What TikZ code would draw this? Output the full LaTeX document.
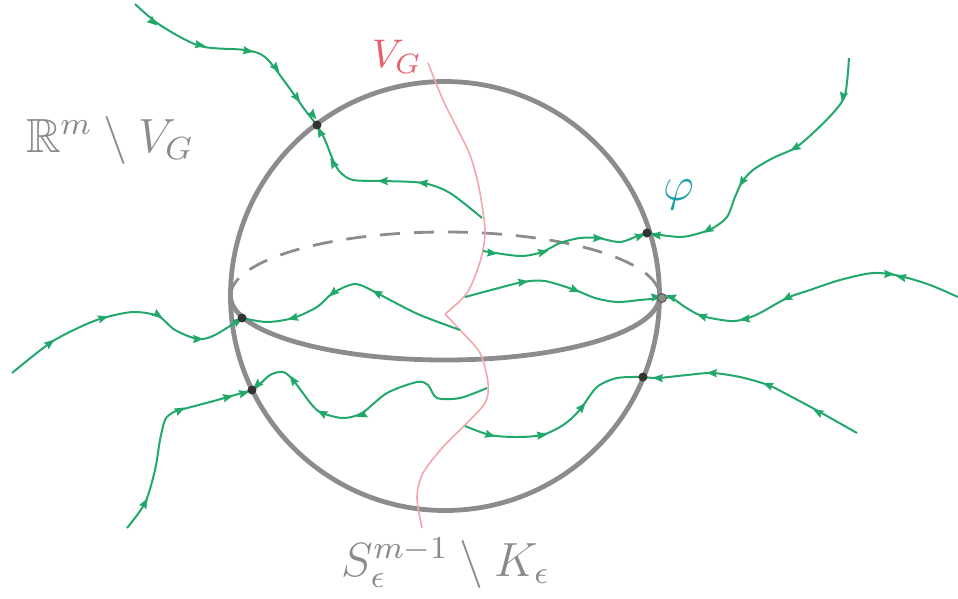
\documentclass[tikz,border=0pt]{standalone}
\usepackage{amsmath,amssymb}
\usepackage{graphicx}
\usepackage{tikz}
\usetikzlibrary{arrows.meta}
\definecolor{flowG}{HTML}{23A86C}
\definecolor{sphG}{HTML}{8C8C8C}
\definecolor{vgR}{HTML}{F4A6AE}
\definecolor{vgT}{HTML}{E65F6E}
\definecolor{phiC}{HTML}{1AA0AA}
\definecolor{txtG}{HTML}{8A8A8A}

\begin{document}
\begin{tikzpicture}[x=1pt,y=-1pt,
  flow/.style={flowG,line width=2pt},
  flowtip/.pic={\fill[flowG] (5.5,0) -- (-5,4.2) -- (-3.5,0) -- (-5,-4.2) -- cycle;},
  sphere/.style={sphG,line width=4.8pt},
  back/.style={sphG,line width=2.8pt,dash pattern=on 20pt off 14pt},
  vg/.style={vgR,line width=1.6pt},
  dot/.style={circle,fill=black!80,inner sep=0pt,minimum size=9pt},
  lbl/.style={txtG}
]
\useasboundingbox (0,0) rectangle (958,598);

% sphere and equator
\coordinate (c) at (445,296);
\draw[sphere] (c) circle[radius=214.5];
\draw[back] (c) ++(-214.5,0) arc[start angle=180,end angle=360,x radius=214.5,y radius=64];
\draw[sphere] (c) ++(214.5,0) arc[start angle=0,end angle=180,x radius=214.5,y radius=64];

% the set V_G
\coordinate (vgTop) at (428,63);
\coordinate (vgK)   at (445,314);
\coordinate (vgBot) at (422,528);
\draw[vg] plot[smooth] coordinates {(vgTop) (443,100) (458,130) (470,155) (478,183)
    (483,212) (485,235) (480,262) (467,293) (vgK)}
  plot[smooth] coordinates {(vgK) (460,330) (480,353) (488,383) (485,403) (463,427)
    (443,447) (423,473) (417,497) (vgBot)};

% points on the sphere
\coordinate (cN)  at (317,125);
\coordinate (cE1) at (647,233);
\coordinate (cE2) at (662,298);
\coordinate (cW1) at (242,318);
\coordinate (cW2) at (252,390);
\coordinate (cE3) at (643,377);

% free ends
\coordinate (a0) at (135,4);
\coordinate (b0) at (482,218);
\coordinate (c0) at (849,58);
\coordinate (d0) at (483,251);
\coordinate (e0) at (12,373);
\coordinate (f0) at (460,330);
\coordinate (g0) at (127,528);
\coordinate (h0) at (487,388);
\coordinate (i0) at (958,297);
\coordinate (j0) at (465,297);
\coordinate (k0) at (857,433);
\coordinate (l0) at (465,426);

% flow lines
\draw[flow] plot[smooth] coordinates {(a0) (160,25) (200,46) (245,50) (265,57) (285,82)
  (305,110) (cN)};
\draw[flow] plot[smooth] coordinates {(b0) (450,193) (423,183) (383,181) (353,180) (340,172)
  (333,160) (325,140) (cN)};
\draw[flow] plot[smooth] coordinates {(c0) (845,95) (833,113) (813,133) (795,148) (773,158)
  (753,170) (742,182) (735,197) (727,217) (713,228) (700,233) (680,237) (cE1)};
\draw[flow] plot[smooth] coordinates {(d0) (520,256) (542,252) (560,243) (580,238) (598,238)
  (620,242) (640,235) (cE1)};
\draw[flow] plot[smooth] coordinates {(e0) (50,343) (80,327) (103,318) (133,312) (158,316)
  (175,330) (198,339) (215,335) (cW1)};
\draw[flow] plot[smooth] coordinates {(f0) (420,315) (390,300) (375,292) (355,284) (333,293)
  (317,307) (293,318) (267,322) (cW1)};
\draw[flow] plot[smooth] coordinates {(g0) (145,503) (155,470) (160,440) (165,420) (172,413)
  (180,410) (210,402) (228,397) (cW2)};
\draw[flow] plot[smooth] coordinates {(h0) (460,398) (437,398) (428,385) (417,382) (387,393)
  (362,413) (343,418) (322,413) (312,405) (293,380) (283,372) (270,375) (257,387) (cW2)};
\draw[flow] plot[smooth] coordinates {(i0) (930,285) (900,276) (873,273) (840,280) (810,290)
  (787,298) (760,313) (745,319) (730,321) (702,316) (685,307) (672,298) (cE2)};
\draw[flow] plot[smooth] coordinates {(j0) (495,289) (523,282) (545,281) (575,290) (595,298)
  (617,302) (640,300) (cE2)};
\draw[flow] plot[smooth] coordinates {(k0) (818,411) (790,396) (768,385) (740,377) (712,373)
  (687,375) (658,378) (cE3)};
\draw[flow] plot[smooth] coordinates {(l0) (490,435) (517,437) (542,435) (560,427) (572,418)
  (582,407) (597,387) (617,378) (cE3)};

% arrow heads along the flow lines
\foreach \x/\y/\a in {153/22/-40, 200/45/-10, 248/51/-10, 276/68/-51, 297/98/-54, 313/115/-51,
    423/183/174, 383/181/180, 333/163/120, 320/132/118,
    843/97/-101, 795/148/-150, 742/182/-122, 708/230/-150, 656/235/174,
    492/253/-6, 543/252/13, 598/238/0, 640/236/18,
    50/343/38, 103/318/17, 158/315/-33, 198/339/0, 238/321/31,
    377/293/152, 333/293/-139, 293/318/-165,
    145/503/61, 180/410/27, 228/397/14, 244/393/14,
    362/415/-161, 322/413/153, 293/380/125, 257/385/-137,
    901/277/168, 889/274/0, 787/298/-153, 745/319/-174, 702/316/161, 671/297/162,
    523/282/9, 575/290/-24, 656/297/6,
    818/412/151, 768/385/159, 712/373/178, 658/378/178,
    490/435/-15, 542/435/8, 582/407/50}
  \pic[rotate=\a] at (\x,\y) {flowtip};

% dots
\node[dot] at (cN) {};
\node[dot] at (cE1) {};
\node[dot,fill=black!45,draw=black!70,line width=0.8pt] at (cE2) {};
\node[dot] at (cW1) {};
\node[dot] at (cW2) {};
\node[dot] at (cE3) {};

% labels
\node[lbl] (amb) at (110,140) {\scalebox{4}{\large$\mathbb{R}^m\setminus V_G$}};
\node[text=vgT] (vgl) at (397,57) {\scalebox{4}{$V_G$}};
\node[text=phiC] (phi) at (679,195) {\scalebox{4}{\large$\varphi$}};
\node[lbl] (slbl) at (446,563) {\scalebox{4}{\large$S_\epsilon^{m-1}\setminus K_\epsilon$}};
\end{tikzpicture}
\end{document}
